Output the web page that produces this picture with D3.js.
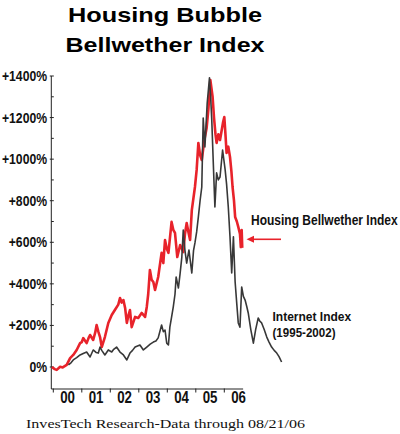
<!DOCTYPE html>
<html>
<head>
<meta charset="utf-8">
<script src="https://cdn.jsdelivr.net/npm/d3@7"></script>
<style>
  html, body { margin: 0; padding: 0; background: #fff; }
  svg { display: block; }
</style>
</head>
<body>
<svg id="chart" width="400" height="434"></svg>
<script>
// ---- Data ----
const titleLines = ["Housing Bubble", "Bellwether Index"];
const footerText = "InvesTech Research-Data through 08/21/06";

const yearTicks = [2000, 2001, 2002, 2003, 2004, 2005, 2006];
const yearLabels = ["00", "01", "02", "03", "04", "05", "06"];
const yTicks = [0, 200, 400, 600, 800, 1000, 1200, 1400];
const yTickLabels = ["0%", "+200%", "+400%", "+600%", "+800%", "+1000%", "+1200%", "+1400%"];
const yMinorTicks = [100, 300, 500, 700, 900, 1100, 1300];

// Housing Bellwether Index (decimal year, % gain)
const housingYears = [1999.95, 2000.05, 2000.12, 2000.24, 2000.33, 2000.47, 2000.59, 2000.70, 2000.82, 2000.94,
  2001.00, 2001.05, 2001.12, 2001.17, 2001.24, 2001.29, 2001.40, 2001.47, 2001.52, 2001.58, 2001.64, 2001.70,
  2001.81, 2001.93, 2002.05, 2002.16, 2002.28, 2002.34, 2002.40, 2002.46, 2002.52, 2002.58, 2002.64, 2002.69,
  2002.75, 2002.87, 2002.98, 2003.10, 2003.22, 2003.28, 2003.33, 2003.39, 2003.45, 2003.51, 2003.57, 2003.68,
  2003.80, 2003.86, 2003.92, 2003.98, 2004.04, 2004.15, 2004.21, 2004.27, 2004.35, 2004.45, 2004.56, 2004.62,
  2004.68, 2004.74, 2004.80, 2004.86, 2004.97, 2005.03, 2005.09, 2005.15, 2005.21, 2005.27, 2005.32, 2005.38,
  2005.44, 2005.51, 2005.55, 2005.59, 2005.64, 2005.69, 2005.73, 2005.79, 2005.85, 2005.91, 2005.96, 2006.00,
  2006.04, 2006.08, 2006.14, 2006.20, 2006.25, 2006.29, 2006.34, 2006.38, 2006.44, 2006.49, 2006.55, 2006.58,
  2006.61, 2006.63];
const housingValues = [0, -10, -14, 1, -2, 10, 43, 58, 82, 115,
  120, 139, 125, 115, 140, 154, 130, 165, 202, 170, 144, 96,
  144, 212, 250, 274, 300, 332, 310, 322, 284, 212, 250, 274,
  192, 241, 236, 260, 241, 289, 350, 467, 420, 409, 371, 433,
  549, 500, 611, 570, 549, 698, 660, 645, 529, 587, 553, 640,
  693, 650, 611, 755, 866, 948, 1078, 1020, 996, 1060, 1107, 1150,
  1237, 1381, 1340, 1299, 1198, 1120, 1078, 1120, 1092, 1140, 1180, 1203,
  1120, 1030, 1060, 1011, 940, 866, 800, 722, 700, 674, 640, 577,
  659, 573];

// Internet Index 1995-2002, time-shifted so peaks align (decimal year, % gain)
const internetYears = [2000.53, 2000.62, 2000.70, 2000.82, 2000.94, 2001.05, 2001.17, 2001.23, 2001.29, 2001.40,
  2001.50, 2001.58, 2001.64, 2001.70, 2001.81, 2001.93, 2002.05, 2002.12, 2002.22, 2002.34, 2002.46, 2002.58,
  2002.69, 2002.78, 2002.87, 2003.04, 2003.16, 2003.28, 2003.40, 2003.51, 2003.60, 2003.68, 2003.80, 2003.86,
  2003.92, 2003.98, 2004.04, 2004.09, 2004.15, 2004.21, 2004.27, 2004.31, 2004.39, 2004.45, 2004.51, 2004.56,
  2004.62, 2004.68, 2004.76, 2004.86, 2004.92, 2004.97, 2005.03, 2005.09, 2005.15, 2005.21, 2005.26, 2005.32,
  2005.40, 2005.48, 2005.52, 2005.56, 2005.61, 2005.67, 2005.73, 2005.79, 2005.85, 2005.94, 2006.03, 2006.08,
  2006.14, 2006.20, 2006.26, 2006.32, 2006.38, 2006.44, 2006.49, 2006.55, 2006.61, 2006.67, 2006.73, 2006.79,
  2006.84, 2006.93, 2007.02, 2007.10, 2007.19, 2007.25, 2007.31, 2007.40, 2007.49, 2007.57, 2007.66, 2007.75,
  2007.84, 2007.92, 2008.01];
const internetValues = [10, 20, 34, 45, 58, 65, 72, 60, 48, 82,
  70, 67, 96, 80, 58, 82, 72, 85, 96, 72, 58, 34,
  67, 80, 96, 106, 82, 96, 110, 120, 125, 140, 202, 170,
  178, 115, 106, 192, 240, 289, 350, 433, 380, 450, 529, 659,
  560, 500, 563, 452, 560, 597, 650, 722, 800, 866, 1198, 1059,
  1270, 1391, 1300, 1189, 996, 770, 934, 900, 914, 1044, 948, 880,
  770, 626, 452, 626, 409, 300, 212, 192, 385, 340, 322, 290,
  260, 180, 115, 180, 236, 220, 212, 180, 144, 120, 96, 80,
  67, 50, 24];

// ---- Drawing ----
const svg = d3.select("#chart");
const x = d3.scaleLinear().domain([2000, 2007]).range([53.3, 252.8]);
const y = d3.scaleLinear().domain([0, 1400]).range([367, 76]);
const axisBottomY = 389;
const axisLeftX = x(1999.93);
const SANS = "'Liberation Sans', Arial, Helvetica, sans-serif";

// condensed bold text via horizontal scaling
function condText(parent, px, py, str, size, anchor, sx) {
  return parent.append("text")
    .attr("transform", `translate(${px},${py}) scale(${sx},1)`)
    .attr("text-anchor", anchor)
    .attr("font-family", SANS)
    .attr("font-weight", "bold")
    .attr("font-size", size)
    .attr("fill", "#111")
    .text(str);
}

// Title
svg.append("g").selectAll("text").data(titleLines).join("text")
  .attr("x", 165)
  .attr("y", (d, i) => 22 + i * 30)
  .attr("text-anchor", "middle")
  .attr("font-family", SANS)
  .attr("font-weight", "bold")
  .attr("font-size", 21)
  .attr("textLength", (d, i) => i === 0 ? 194 : 199)
  .attr("lengthAdjust", "spacingAndGlyphs")
  .attr("fill", "#000")
  .text(d => d);

// Y axis
const yAxis = svg.append("g");
yAxis.append("line")
  .attr("x1", axisLeftX).attr("x2", axisLeftX)
  .attr("y1", y(1400)).attr("y2", axisBottomY)
  .attr("stroke", "#222").attr("stroke-width", 1);
yAxis.selectAll("line.major").data(yTicks).join("line").attr("class", "major")
  .attr("x1", axisLeftX - 1.5).attr("x2", axisLeftX + 2.5)
  .attr("y1", d => y(d)).attr("y2", d => y(d))
  .attr("stroke", "#222").attr("stroke-width", 1);
yAxis.selectAll("line.minor").data(yMinorTicks).join("line").attr("class", "minor")
  .attr("x1", axisLeftX).attr("x2", axisLeftX + 2.5)
  .attr("y1", d => y(d)).attr("y2", d => y(d))
  .attr("stroke", "#222").attr("stroke-width", 1);
yTicks.forEach((d, i) => condText(yAxis, 47, y(d) + 5, yTickLabels[i], 14, "end", 0.87));

// X axis
const xAxis = svg.append("g");
xAxis.append("line")
  .attr("x1", axisLeftX).attr("x2", x(2006.66))
  .attr("y1", axisBottomY).attr("y2", axisBottomY)
  .attr("stroke", "#222").attr("stroke-width", 1);
xAxis.selectAll("line.tick").data(yearTicks).join("line").attr("class", "tick")
  .attr("x1", d => x(d)).attr("x2", d => x(d))
  .attr("y1", axisBottomY - 0.5).attr("y2", axisBottomY + 3.5)
  .attr("stroke", "#222").attr("stroke-width", 1);
yearTicks.forEach((d, i) => condText(xAxis, x(d + 0.5), 403, yearLabels[i], 16, "middle", 0.83));

// Lines
const housing = housingYears.map((t, i) => [t, housingValues[i]]);
const internet = internetYears.map((t, i) => [t, internetValues[i]]);
const line = d3.line().x(d => x(d[0])).y(d => y(d[1]));

svg.append("path").datum(housing)
  .attr("d", line).attr("fill", "none")
  .attr("stroke", "#e8232b").attr("stroke-width", 2.6)
  .attr("stroke-linejoin", "round");
svg.append("path").datum(internet)
  .attr("d", line).attr("fill", "none")
  .attr("stroke", "#383838").attr("stroke-width", 1.6)
  .attr("stroke-linejoin", "round");

// Annotations
const ann = svg.append("g");
condText(ann, 251, 225, "Housing Bellwether Index", 15, "start", 0.80);
ann.append("line")
  .attr("x1", 281).attr("x2", 252)
  .attr("y1", 239.3).attr("y2", 239.3)
  .attr("stroke", "#e8232b").attr("stroke-width", 1.6);
ann.append("path")
  .attr("d", "M246.5,239.3 L254,235.8 L254,242.8 Z")
  .attr("fill", "#e8232b");
condText(ann, 272.5, 321, "Internet Index", 13.5, "start", 0.89);
condText(ann, 272.5, 337, "(1995-2002)", 13, "start", 0.89);

// Footer
svg.append("text")
  .attr("x", 26).attr("y", 428)
  .attr("font-family", "'Liberation Serif', 'Times New Roman', serif")
  .attr("font-size", 12.5)
  .attr("textLength", 279)
  .attr("lengthAdjust", "spacingAndGlyphs")
  .attr("fill", "#111")
  .text(footerText);
</script>
</body>
</html>
